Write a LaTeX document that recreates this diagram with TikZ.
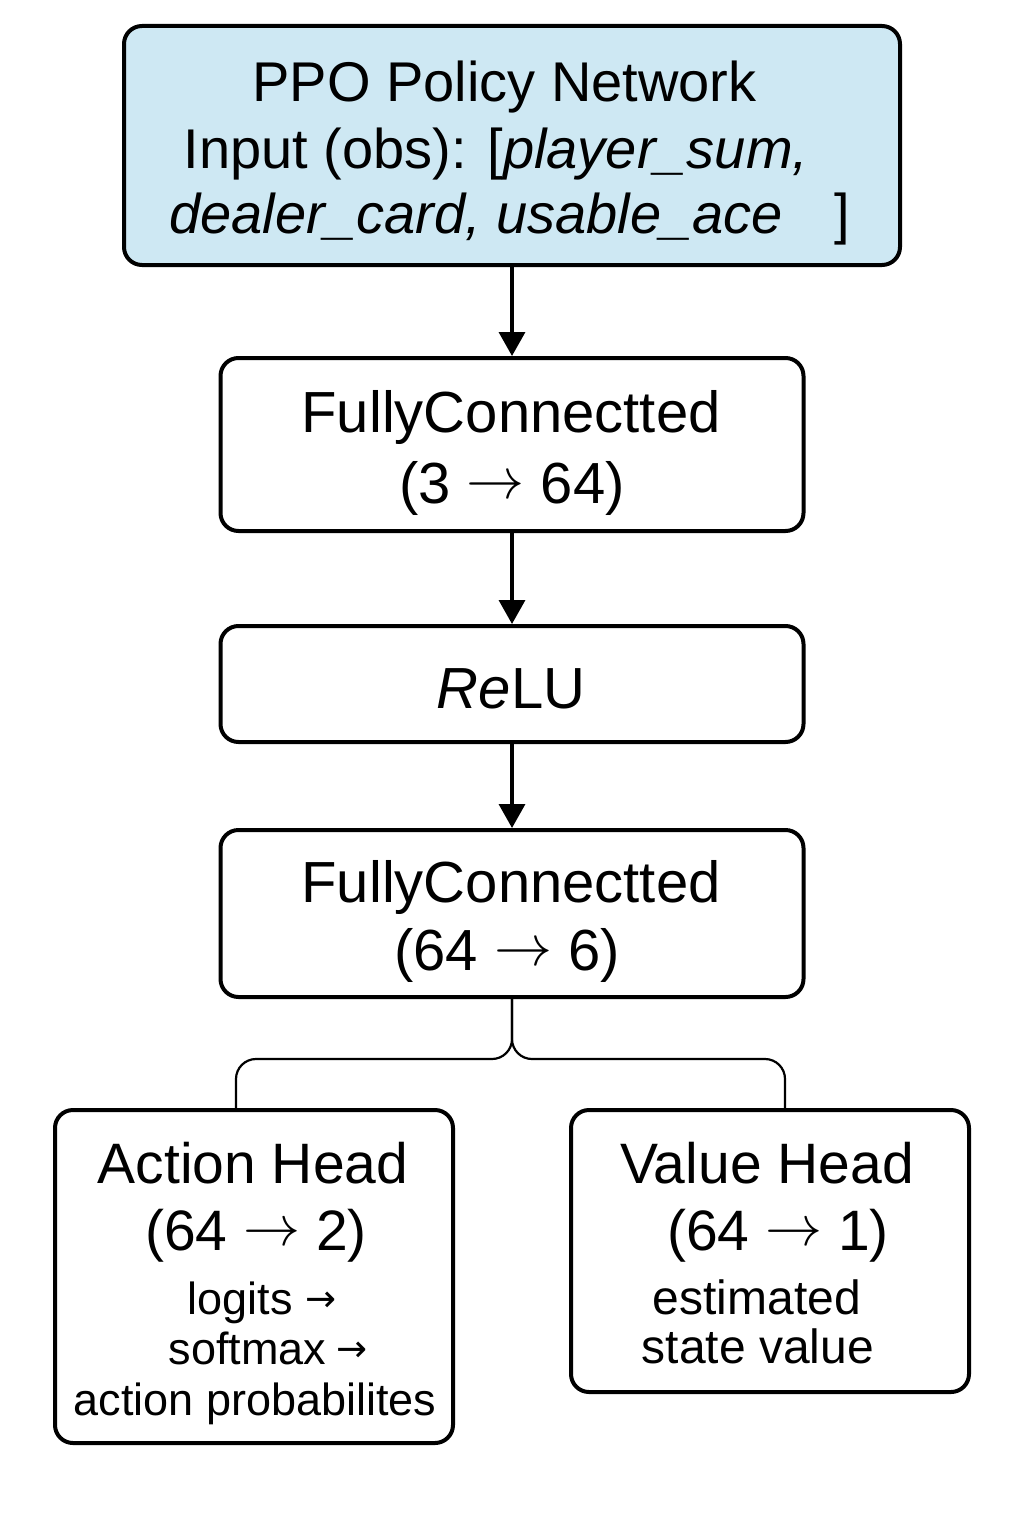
\documentclass[tikz,border=0pt]{standalone}
\usepackage{fix-cm}
\usepackage{fontspec}
\setmainfont{Liberation Sans}
\newfontfamily\dejavu{DejaVu Sans}
\usetikzlibrary{arrows.meta}
\definecolor{topblue}{RGB}{206,232,243}
\newcommand\longarr{\raisebox{5pt}{$\rightarrow$}}
\newcommand\smallarr{\raisebox{3pt}{\dejavu\fontsize{37}{37}\selectfont →}}
\begin{document}
\begin{tikzpicture}[x=1pt,y=-1pt,
  box/.style={draw, line width=4pt, rounded corners=18pt, inner sep=0pt},
  topbox/.style={box, fill=topblue},
  arr/.style={-{Triangle[length=24pt,width=26pt]}, line width=3.5pt},
  conn/.style={line width=2.2pt, rounded corners=20pt},
  txtA/.style={font=\fontsize{56}{66}\selectfont, anchor=base, inner sep=0pt},
  txtB/.style={font=\fontsize{58}{66}\selectfont, anchor=base, inner sep=0pt},
  txtC/.style={font=\fontsize{57}{66}\selectfont, anchor=base, inner sep=0pt},
  txtS/.style={font=\fontsize{45}{52}\selectfont, anchor=base, inner sep=0pt},
  txtV/.style={font=\fontsize{48}{52}\selectfont, anchor=base, inner sep=0pt}
]
\useasboundingbox[fill=white] (0,0) rectangle (1024,1536);

% boxes
\node[topbox, minimum width=776pt, minimum height=239pt] (top) at (512,145.5) {};
\node[box, minimum width=583pt, minimum height=173pt] (fc1) at (512,444.5) {};
\node[box, minimum width=583pt, minimum height=116pt] (relu) at (512,684) {};
\node[box, minimum width=583pt, minimum height=167pt] (fc2) at (512,913.5) {};
\node[box, minimum width=398pt, minimum height=333pt] (act) at (254,1276.5) {};
\node[box, minimum width=398pt, minimum height=282pt] (val) at (770,1251) {};

% texts
\node[txtA] (t1) at (504.5,102) {PPO Policy Network};
\node[txtA] (t2) at (496,168) {Input (obs): [\textit{player\_sum,}};
\node[txtA] (t3) at (510,233) {\textit{dealer\_card, usable\_ace}\hspace{52pt}]};

\node[txtB] (f1a) at (511,432) {FullyConnectted};
\node[txtB] (f1b) at (512,503) {(3 \longarr{} 64)};

\node[txtB] (r1) at (511,708) {\textit{Re}LU};

\node[txtB] (f2a) at (511,902) {FullyConnectted};
\node[txtB] (f2b) at (507,970) {(64 \longarr{} 6)};

\node[txtC] (a1) at (253,1183) {Action Head};
\node[txtC] (a2) at (256,1250) {(64 \longarr{} 2)};
\node[txtS] (a3) at (262,1314) {logits \smallarr};
\node[txtS] (a4) at (268,1364) {softmax\hspace{10pt}\smallarr};
\node[txtS] (a5) at (255,1415) {action probabilites};

\node[txtC] (v1) at (767,1183) {Value Head};
\node[txtC] (v2) at (778,1250) {(64 \longarr{} 1)};
\node[txtV] (v3) at (757,1314) {estimated};
\node[txtV] (v4) at (758,1363) {state value};

% connectors
\draw[arr] (top.south) -- (fc1.north);
\draw[arr] (fc1.south) -- (relu.north);
\draw[arr] (relu.south) -- (fc2.north);

\coordinate (bl) at (236,1059);
\coordinate (br) at (785,1059);
\draw[conn] (fc2.south) |- (bl) -- (bl |- act.north);
\draw[conn] (fc2.south) |- (br) -- (br |- val.north);
\end{tikzpicture}
\end{document}
